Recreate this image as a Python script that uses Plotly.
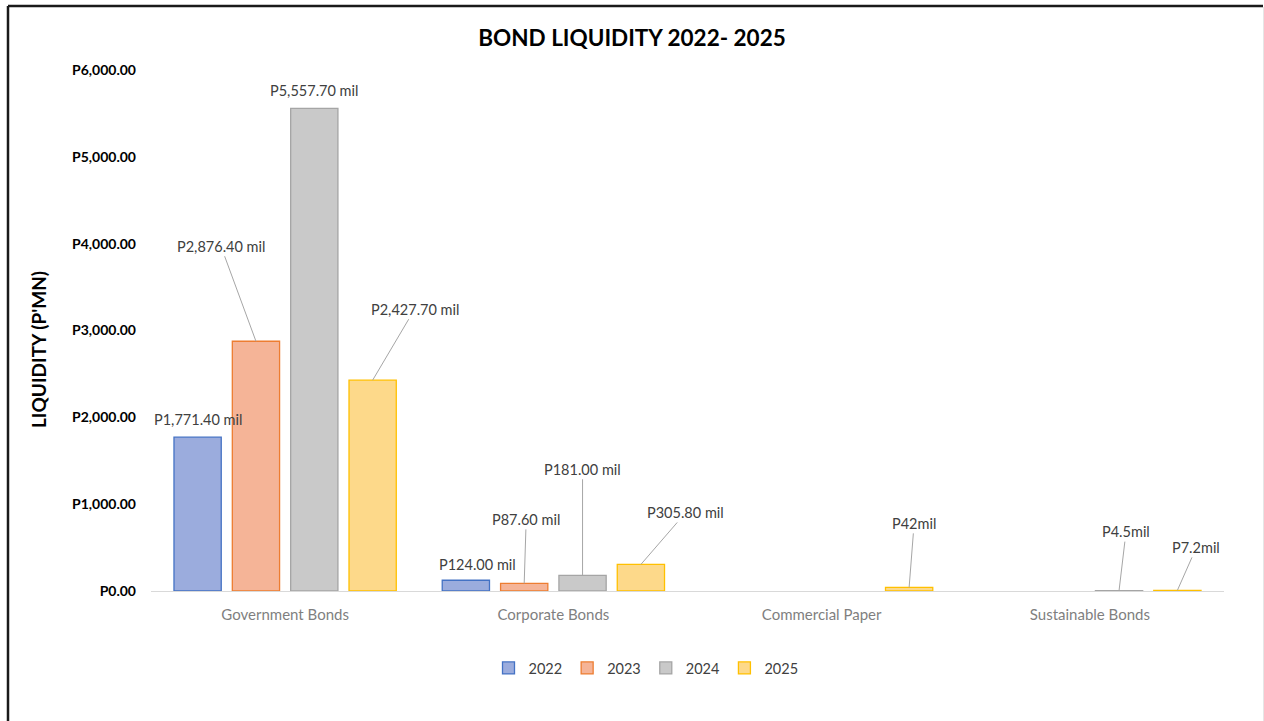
import plotly.graph_objects as go

categories = ["Government Bonds", "Corporate Bonds", "Commercial Paper", "Sustainable Bonds"]
years = ["2022", "2023", "2024", "2025"]
values_2022 = [1771.4, 124.0, None, None]
values_2023 = [2876.4, 87.6, None, None]
values_2024 = [5557.7, 181.0, None, 4.5]
values_2025 = [2427.7, 305.8, 42.0, 7.2]
label_text = {
    ("2022", 0): "P1,771.40 mil", ("2023", 0): "P2,876.40 mil", ("2024", 0): "P5,557.70 mil", ("2025", 0): "P2,427.70 mil",
    ("2022", 1): "P124.00 mil", ("2023", 1): "P87.60 mil", ("2024", 1): "P181.00 mil", ("2025", 1): "P305.80 mil",
    ("2025", 2): "P42mil", ("2024", 3): "P4.5mil", ("2025", 3): "P7.2mil",
}
y_ticks = [0, 1000, 2000, 3000, 4000, 5000, 6000]
y_tick_labels = ["P0.00", "P1,000.00", "P2,000.00", "P3,000.00", "P4,000.00", "P5,000.00", "P6,000.00"]

series = {"2022": values_2022, "2023": values_2023, "2024": values_2024, "2025": values_2025}
fills = {"2022": "#9BACDD", "2023": "#F5B497", "2024": "#C9C9C9", "2025": "#FDD98A"}
lines = {"2022": "#4472C4", "2023": "#ED7D31", "2024": "#A5A5A5", "2025": "#FFC000"}

FONT = "Lato"
fig = go.Figure()
x_idx = list(range(len(categories)))
for yr in years:
    fig.add_trace(go.Bar(
        x=x_idx, y=series[yr], name=yr,
        marker=dict(color=fills[yr], line=dict(color=lines[yr], width=1.3)),
    ))

bargap = 0.13
bargroupgap = 0.19
slot = (1 - bargap) / len(years)

# (ax, ay, leader): pixel offsets of label centre from the bar top
placement = {
    ("2022", 0): (0, -18, False), ("2023", 0): (-35, -95, True), ("2024", 0): (0, -18, False), ("2025", 0): (42, -71, True),
    ("2022", 1): (12, -16, False), ("2023", 1): (2, -64, True), ("2024", 1): (0, -106, True), ("2025", 1): (45, -52, True),
    ("2025", 2): (5, -64, True), ("2024", 3): (7, -59, True), ("2025", 3): (19, -43, True),
}
for (yr, ci), txt in label_text.items():
    j = years.index(yr)
    xpos = ci - (1 - bargap) / 2 + slot * (j + 0.5)
    yv = series[yr][ci]
    ax, ay, arrow = placement[(yr, ci)]
    if arrow:
        fig.add_annotation(x=xpos, y=yv, text=txt, showarrow=True, arrowhead=0, arrowwidth=1,
                           arrowcolor="#A6A6A6", ax=ax, ay=ay, standoff=0,
                           font=dict(family=FONT, size=14.5, color="#404040"))
    else:
        fig.add_annotation(x=xpos, y=yv, text=txt, showarrow=False, xshift=ax, yshift=-ay,
                           font=dict(family=FONT, size=14.5, color="#404040"))

W, H = 1264, 721
L, R, T, B = 151, 40, 70, 130
pw, ph = W - L - R, H - T - B
def px(x): return (x - L) / pw
def py(y): return (H - B - y) / ph

# axis title placed like the reference (slightly below plot centre)
fig.add_annotation(xref="paper", yref="paper", x=px(38), y=py(350), text="<b>LIQUIDITY (P'MN)</b>",
                   textangle=-90, showarrow=False, xanchor="center", yanchor="middle",
                   font=dict(family=FONT, size=19, color="black"))

# outer frame
fig.add_shape(type="line", xref="paper", yref="paper", x0=px(8), x1=px(1263), y0=py(6), y1=py(6),
              line=dict(color="#1a1a1a", width=2.5))
fig.add_shape(type="line", xref="paper", yref="paper", x0=px(8), x1=px(8), y0=py(6), y1=py(721),
              line=dict(color="#1a1a1a", width=2.5))
fig.add_shape(type="line", xref="paper", yref="paper", x0=px(1263.5), x1=px(1263.5), y0=py(7), y1=py(721),
              line=dict(color="#E6E6E6", width=1))

fig.update_layout(
    width=W, height=H,
    margin=dict(l=L, r=R, t=T, b=B),
    paper_bgcolor="white", plot_bgcolor="white",
    barmode="group", bargap=bargap, bargroupgap=bargroupgap,
    title=dict(text="<b>BOND LIQUIDITY 2022- 2025</b>", x=0.5, xref="container", xanchor="center",
               y=1 - 38 / H, yanchor="middle", font=dict(family=FONT, size=22.5, color="black")),
    xaxis=dict(tickmode="array", tickvals=x_idx, ticktext=categories, range=[-0.5, 3.5],
               showgrid=False, zeroline=False, showline=True, linecolor="#D9D9D9", linewidth=1,
               ticks="", ticklabelstandoff=10, tickfont=dict(family=FONT, size=15, color="#7F7F7F")),
    yaxis=dict(range=[0, 6000], tickvals=y_ticks, ticktext=["<b>%s</b>" % t for t in y_tick_labels],
               showgrid=False, zeroline=False, showline=False, ticks="", ticklabelstandoff=14,
               tickfont=dict(family=FONT, size=14, color="black")),
    legend=dict(orientation="h", x=px(646), xanchor="center", y=py(668), yanchor="middle",
                itemwidth=30, font=dict(family=FONT, size=14.5, color="#404040"), traceorder="normal"),
    showlegend=True,
)

fig.write_html("out.html")
